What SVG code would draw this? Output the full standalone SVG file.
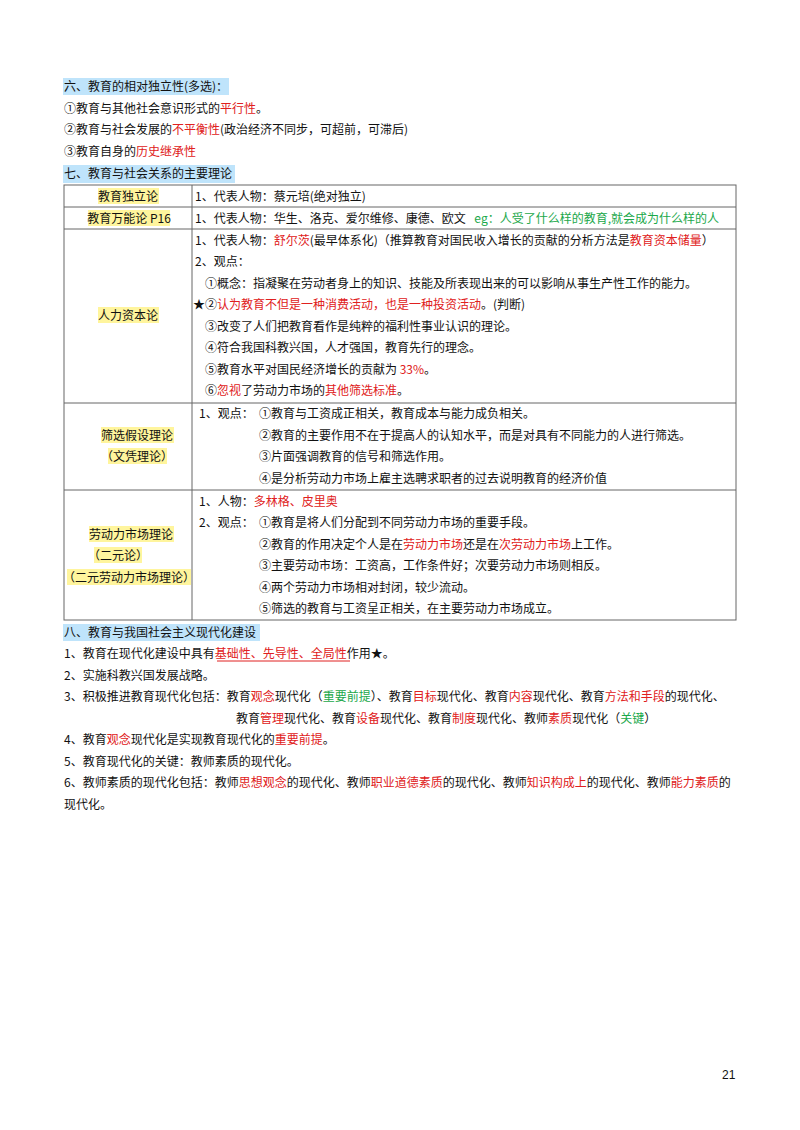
<svg xmlns="http://www.w3.org/2000/svg" width="800" height="1130" viewBox="0 0 800 1130">
<style>
text{font-family:"Noto Sans CJK SC","Liberation Sans",sans-serif;font-size:12px;fill:#111}
.r{fill:#e02020}.g{fill:#1aa84a}
.hb{fill:#bfe4fb}.hy{fill:#fff59d}
.ln{stroke:#666;stroke-width:1;fill:none}
.c{text-anchor:middle}
</style>
<rect width="800" height="1130" fill="#fff"/>
<g id="sec6">
<rect class="hb" x="63" y="78" width="166" height="17"/>
<text x="64" y="91">六、教育的相对独立性(多选)：</text>
<text x="64" y="113">①教育与其他社会意识形式的<tspan class="r">平行性</tspan>。</text>
<text x="64" y="134">②教育与社会发展的<tspan class="r">不平衡性</tspan>(政治经济不同步，可超前，可滞后)</text>
<text x="64" y="156">③教育自身的<tspan class="r">历史继承性</tspan></text>
</g>
<g id="sec7">
<rect class="hb" x="63" y="165" width="172" height="18"/>
<text x="64" y="178">七、教育与社会关系的主要理论</text>
</g>
<g id="table">
<rect class="ln" x="64" y="185" width="672" height="435"/>
<line class="ln" x1="192" y1="185" x2="192" y2="620"/>
<line class="ln" x1="64" y1="207" x2="736" y2="207"/>
<line class="ln" x1="64" y1="229" x2="736" y2="229"/>
<line class="ln" x1="64" y1="403" x2="736" y2="403"/>
<line class="ln" x1="64" y1="490" x2="736" y2="490"/>
</g>
<g id="row1">
<rect class="hy" x="98" y="188" width="61" height="16"/>
<text class="c" x="128" y="201">教育独立论</text>
<text x="195" y="201">1、代表人物：蔡元培(绝对独立)</text>
</g>
<g id="row2">
<rect class="hy" x="88" y="210" width="82" height="16"/>
<text class="c" x="129" y="223">教育万能论 P16</text>
<text x="195" y="223">1、代表人物：华生、洛克、爱尔维修、康德、欧文 <tspan class="g" dx="6">eg：人受了什么样的教育,就会成为什么样的人</tspan></text>
</g>
<g id="row3">
<rect class="hy" x="98" y="307" width="61" height="16"/>
<text class="c" x="128" y="320">人力资本论</text>
<text x="195" y="245">1、代表人物：<tspan class="r">舒尔茨</tspan>(最早体系化)（推算教育对国民收入增长的贡献的分析方法是<tspan class="r">教育资本储量</tspan>）</text>
<text x="195" y="266">2、观点：</text>
<text x="205" y="288">①概念：指凝聚在劳动者身上的知识、技能及所表现出来的可以影响从事生产性工作的能力。</text>
<text x="193" y="309">★②<tspan class="r">认为教育不但是一种消费活动，也是一种投资活动</tspan>。(判断)</text>
<text x="205" y="331">③改变了人们把教育看作是纯粹的福利性事业认识的理论。</text>
<text x="205" y="352">④符合我国科教兴国，人才强国，教育先行的理念。</text>
<text x="205" y="374">⑤教育水平对国民经济增长的贡献为 <tspan class="r">33%</tspan>。</text>
<text x="205" y="395">⑥<tspan class="r">忽视</tspan>了劳动力市场的<tspan class="r">其他筛选标准</tspan>。</text>
</g>
<g id="row4">
<rect class="hy" x="101" y="427" width="73" height="16"/>
<text class="c" x="137" y="440">筛选假设理论</text>
<rect class="hy" x="108" y="448" width="59" height="16"/>
<text class="c" x="137" y="461">（文凭理论）</text>
<text x="199" y="418">1、观点：</text>
<text x="259" y="418">①教育与工资成正相关，教育成本与能力成负相关。</text>
<text x="259" y="440">②教育的主要作用不在于提高人的认知水平，而是对具有不同能力的人进行筛选。</text>
<text x="259" y="461">③片面强调教育的信号和筛选作用。</text>
<text x="259" y="483">④是分析劳动力市场上雇主选聘求职者的过去说明教育的经济价值</text>
</g>
<g id="row5">
<rect class="hy" x="89" y="526" width="85" height="16"/>
<text class="c" x="131" y="539">劳动力市场理论</text>
<rect class="hy" x="94" y="547" width="48" height="16"/>
<text class="c" x="118" y="560">（二元论）</text>
<rect class="hy" x="67" y="569" width="124" height="16"/>
<text class="c" x="129" y="582">（二元劳动力市场理论）</text>
<text x="199" y="506">1、人物：<tspan class="r">多林格、皮里奥</tspan></text>
<text x="199" y="527">2、观点：</text>
<text x="259" y="527">①教育是将人们分配到不同劳动力市场的重要手段。</text>
<text x="259" y="549">②教育的作用决定个人是在<tspan class="r">劳动力市场</tspan>还是在<tspan class="r">次劳动力市场</tspan>上工作。</text>
<text x="259" y="570">③主要劳动市场：工资高，工作条件好；次要劳动力市场则相反。</text>
<text x="259" y="592">④两个劳动力市场相对封闭，较少流动。</text>
<text x="259" y="613">⑤筛选的教育与工资呈正相关，在主要劳动力市场成立。</text>
</g>
<g id="sec8">
<rect class="hb" x="63" y="624" width="197" height="17"/>
<text x="64" y="637">八、教育与我国社会主义现代化建设</text>
<text x="64" y="658">1、教育在现代化建设中具有<tspan class="r">基础性、先导性、全局性</tspan>作用★。</text>
<line x1="217" y1="661" x2="350" y2="661" stroke="#e02020" stroke-width="1"/>
<text x="64" y="680">2、实施科教兴国发展战略。</text>
<text x="64" y="701">3、积极推进教育现代化包括：教育<tspan class="r">观念</tspan>现代化（<tspan class="g">重要前提</tspan>）、教育<tspan class="r">目标</tspan>现代化、教育<tspan class="r">内容</tspan>现代化、教育<tspan class="r">方法和手段</tspan>的现代化、</text>
<text x="236" y="723">教育<tspan class="r">管理</tspan>现代化、教育<tspan class="r">设备</tspan>现代化、教育<tspan class="r">制度</tspan>现代化、教师<tspan class="r">素质</tspan>现代化（<tspan class="g">关键</tspan>）</text>
<text x="64" y="744">4、教育<tspan class="r">观念</tspan>现代化是实现教育现代化的<tspan class="r">重要前提</tspan>。</text>
<text x="64" y="766">5、教育现代化的关键：教师素质的现代化。</text>
<text x="64" y="787">6、教师素质的现代化包括：教师<tspan class="r">思想观念</tspan>的现代化、教师<tspan class="r">职业道德素质</tspan>的现代化、教师<tspan class="r">知识构成上</tspan>的现代化、教师<tspan class="r">能力素质</tspan>的</text>
<text x="64" y="809">现代化。</text>
</g>
<text x="722" y="1079" style="font-family:'Liberation Sans',sans-serif;font-size:12px">21</text>
</svg>
